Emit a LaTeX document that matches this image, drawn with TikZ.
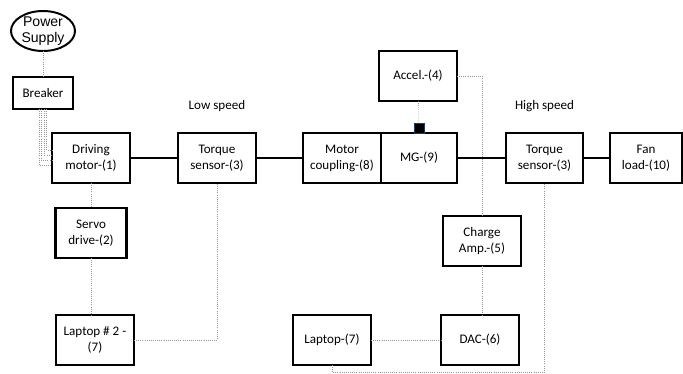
\documentclass[tikz,border=0pt]{standalone}
\usepackage{fontspec}
\setmainfont{Carlito}
\newfontfamily\supplyfont{Liberation Sans}
\usepackage{tikz}
\usetikzlibrary{shapes.geometric, positioning, calc}
\definecolor{signal}{RGB}{150, 150, 150}
\definecolor{mountedge}{RGB}{31, 56, 100}
\tikzset{
  font=\fontsize{9.3}{11.4}\selectfont,
  node distance=1.2cm and 1.2cm,
  unitblock/.style={
    rectangle, draw=black, line width=1.5pt, outer sep=0pt,
    minimum height=1.25cm, minimum width=1.95cm,
    inner sep=1pt, align=center
  },
  heavyblock/.style={unitblock, line width=2pt},
  sourceblock/.style={
    ellipse, draw=black, line width=1.4pt, outer sep=0pt,
    minimum width=1.6cm, minimum height=1.0cm, inner sep=-1.5pt,
    align=center, font=\supplyfont\fontsize{10}{11}\selectfont
  },
  mountblock/.style={
    rectangle, draw=mountedge, fill=black, line width=0.6pt,
    minimum size=0.25cm, inner sep=0pt
  },
  shaftline/.style={draw=black, line width=1.5pt},
  signalline/.style={draw=signal, densely dotted, line width=0.5pt}
}

\begin{document}
\begin{tikzpicture}

  \useasboundingbox (0,0) rectangle (17.075,-9.35);

  % Drive train (shaft line)
  \node[unitblock] (drive) at (2.275,-3.95) {Driving\\motor-(1)};
  \node[unitblock, right=1.2cm of drive] (tslow) {Torque\\sensor-(3)};
  \node[unitblock, right=1.175cm of tslow] (coupling) {Motor\\coupling-(8)};
  \node[unitblock, right=0cm of coupling, minimum width=1.9cm] (mg) {MG-(9)};
  \node[unitblock, right=1.225cm of mg, minimum width=1.925cm] (tshigh) {Torque\\sensor-(3)};
  \node[unitblock, right=0.675cm of tshigh, minimum width=1.8cm] (fan) {Fan\\load-(10)};

  % Speed labels
  \node[above=0.675cm of tslow.north, anchor=center] (lowlbl) {Low speed};
  \node[above=0.675cm of tshigh.north, anchor=center] (highlbl) {High speed};

  % Supply side
  \node[unitblock, above=0.6cm of drive.north west, xshift=-0.225cm,
        minimum width=1.5cm, minimum height=0.8cm] (breaker) {Breaker};
  \node[sourceblock, above=0.65cm of breaker] (supply) {Power\\Supply};

  % Low speed side instruments
  \node[heavyblock, below=0.625cm of drive, minimum width=1.775cm] (servo) {Servo\\drive-(2)};
  \node[heavyblock, below=1.425cm of servo, xshift=0.1cm] (laptopb) {Laptop \# 2 -\\(7)};

  % Vibration measurement chain
  \node[unitblock, above=0.8cm of mg, xshift=-0.025cm] (accel) {Accel.-(4)};
  \node[mountblock, anchor=south] (mount) at ([yshift=-0.03cm]mg.north) {};
  \node[heavyblock, below=0.825cm of mg.south east, xshift=0.625cm] (charge) {Charge\\Amp.-(5)};
  \node[heavyblock, below=1.225cm of charge, xshift=-0.05cm] (dac) {DAC-(6)};
  \node[unitblock, left=1.75cm of dac] (laptopa) {Laptop-(7)};

  % Shaft connections
  \draw[shaftline] (drive) -- (tslow);
  \draw[shaftline] (tslow) -- (coupling);
  \draw[shaftline] (mg) -- (tshigh);
  \draw[shaftline] (tshigh) -- (fan);

  % Power wiring
  \draw[signalline] (supply) -- (breaker);
  \foreach \dx/\dy in {-0.1/-0.175, -0.0375/-0.05, 0.025/0.075, 0.0875/0.2}
    \draw[signalline] ([xshift=\dx cm]breaker.south) |- ([yshift=\dy cm]drive.west);

  % Signal wiring
  \draw[signalline] (drive) -- (servo);
  \draw[signalline] (servo.south) -- (servo.south |- laptopb.north);
  \draw[signalline] (laptopb.east) -| (tslow.south);
  \draw[signalline] (accel) -- (mount);
  \draw[signalline] (accel.east) -| (charge.north);
  \draw[signalline] (charge.south) -- (charge.south |- dac.north);
  \draw[signalline] (laptopa) -- (dac);
  \draw[signalline] (laptopa.south) -- ++(0,-0.18) -| (tshigh.south);

\end{tikzpicture}
\end{document}
